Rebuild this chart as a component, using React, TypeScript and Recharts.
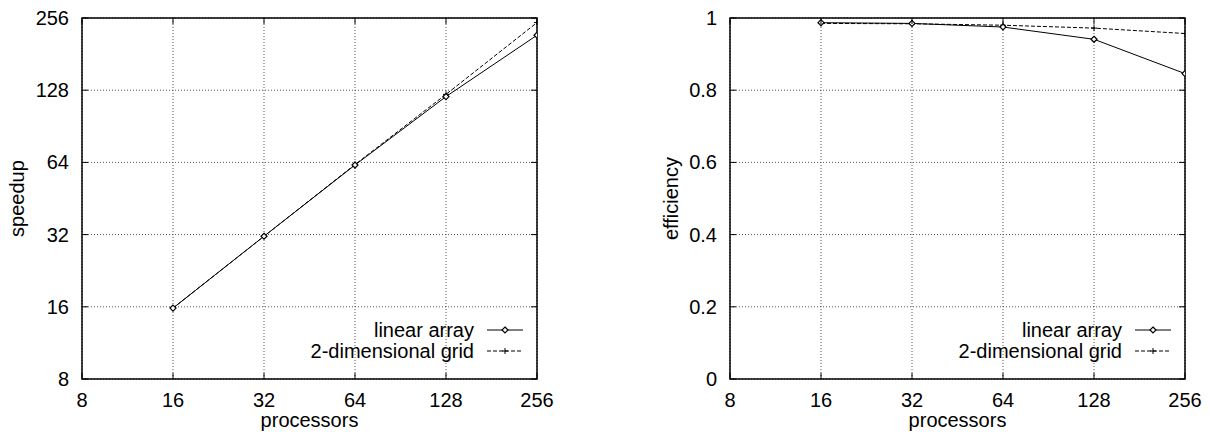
import React from 'react';
import { LineChart, Line, XAxis, YAxis, CartesianGrid, Customized } from 'recharts';

// ---------- data ----------
const processors = [16, 32, 64, 128, 256];
const speedupLinear = [15.8, 31.5, 62.4, 120.4, 217];
const speedupGrid = [15.8, 31.5, 62.7, 123, 245];
const efficiencyLinear = [0.987, 0.985, 0.975, 0.941, 0.846];
const efficiencyGrid = [0.985, 0.984, 0.98, 0.972, 0.957];

const processorTicks = [8, 16, 32, 64, 128, 256];
const speedupTicks = [8, 16, 32, 64, 128, 256];
const efficiencyTicks = [0, 0.2, 0.4, 0.6, 0.8, 1];

const seriesNames = ['linear array', '2-dimensional grid'];
const xTitle = 'processors';
const speedupTitle = 'speedup';
const efficiencyTitle = 'efficiency';

const speedupData = processors.map((p, i) => ({ p, linear: speedupLinear[i], grid: speedupGrid[i] }));
const efficiencyData = processors.map((p, i) => ({ p, linear: efficiencyLinear[i], grid: efficiencyGrid[i] }));

// ---------- style / layout ----------
const FONT = '"Liberation Sans", Arial, Helvetica, sans-serif';
const FS = 20;
const W = 605;
const H = 432;
const TOP = 18;
const BOTTOM = 379;
const TICK = 6;

const Diamond = (props: any) => {
  const { cx, cy } = props;
  if (cx == null || cy == null) return <g />;
  const r = 3;
  return (
    <polygon
      points={`${cx},${cy - r} ${cx + r},${cy} ${cx},${cy + r} ${cx - r},${cy}`}
      fill="#fff"
      stroke="#000"
      strokeWidth={1.2}
    />
  );
};

const Plus = (props: any) => {
  const { cx, cy } = props;
  if (cx == null || cy == null) return <g />;
  const r = 3;
  return (
    <g stroke="#000" strokeWidth={1}>
      <line x1={cx - r} y1={cy} x2={cx + r} y2={cy} />
      <line x1={cx} y1={cy - r} x2={cx} y2={cy + r} />
    </g>
  );
};

const makeXTick = () => (props: any) => {
  const { x, y, payload } = props;
  return (
    <g>
      <line x1={x} y1={y} x2={x} y2={y - TICK} stroke="#000" />
      <line x1={x} y1={TOP} x2={x} y2={TOP + TICK} stroke="#000" />
      <text x={x} y={y + 28} textAnchor="middle" fontFamily={FONT} fontSize={FS} fill="#000">
        {String(payload.value)}
      </text>
    </g>
  );
};

const makeYTick = (right: number) => (props: any) => {
  const { x, y, payload } = props;
  return (
    <g>
      <line x1={x} y1={y} x2={x + TICK} y2={y} stroke="#000" />
      <line x1={right} y1={y} x2={right - TICK} y2={y} stroke="#000" />
      <text x={x - 13} y={y + 7} textAnchor="end" fontFamily={FONT} fontSize={FS} fill="#000">
        {String(payload.value)}
      </text>
    </g>
  );
};

const Extras = ({ left, right, ytitle, ytitleX }: { left: number; right: number; ytitle: string; ytitleX: number }) => {
  const cx = (left + right) / 2;
  const cy = (TOP + BOTTOM) / 2;
  const textEnd = right - 63;
  const s1 = right - 50;
  const s2 = right - 14;
  const sm = (s1 + s2) / 2;
  const r1 = 330;
  const r2 = 351;
  return (
    <g>
      <rect x={left} y={TOP} width={right - left} height={BOTTOM - TOP} fill="none" stroke="#000" strokeWidth={1.5} />
      <text x={cx} y={427} textAnchor="middle" fontFamily={FONT} fontSize={FS} fill="#000">
        {xTitle}
      </text>
      <text
        x={ytitleX}
        y={cy}
        transform={`rotate(-90, ${ytitleX}, ${cy})`}
        textAnchor="middle"
        fontFamily={FONT}
        fontSize={FS}
        fill="#000"
      >
        {ytitle}
      </text>
      <text x={textEnd} y={r1 + 7} textAnchor="end" fontFamily={FONT} fontSize={FS} fill="#000">
        {seriesNames[0]}
      </text>
      <line x1={s1} y1={r1} x2={s2} y2={r1} stroke="#000" strokeWidth={1} />
      <Diamond cx={sm} cy={r1} />
      <text x={textEnd} y={r2 + 7} textAnchor="end" fontFamily={FONT} fontSize={FS} fill="#000">
        {seriesNames[1]}
      </text>
      <line x1={s1} y1={r2} x2={s2} y2={r2} stroke="#000" strokeWidth={1} strokeDasharray="4 2" />
      <Plus cx={sm} cy={r2} />
    </g>
  );
};

export default function App() {
  const leftRight = 537;
  const rightLeft = 125;
  const rightRight = 580;
  return (
    <div style={{ position: 'absolute', left: 0, top: 0, width: 1210, height: 432, background: '#fff' }}>
      <div style={{ position: 'absolute', left: 0, top: 0 }}>
        <LineChart width={W} height={H} data={speedupData} margin={{ top: TOP, right: W - leftRight, bottom: 0, left: 0 }}>
          <CartesianGrid stroke="#555" strokeDasharray="1 2" />
          <XAxis
            dataKey="p"
            type="number"
            scale="log"
            domain={[8, 256]}
            ticks={processorTicks}
            allowDataOverflow
            interval={0}
            height={H - BOTTOM}
            tickSize={0}
            tickMargin={0}
            tickLine={false}
            axisLine={false}
            tick={makeXTick()}
          />
          <YAxis
            type="number"
            scale="log"
            domain={[8, 256]}
            ticks={speedupTicks}
            allowDataOverflow
            interval={0}
            width={82}
            tickSize={0}
            tickMargin={0}
            tickLine={false}
            axisLine={false}
            tick={makeYTick(leftRight)}
          />
          <Line dataKey="grid" stroke="#000" strokeWidth={1} strokeDasharray="4 2" dot={<Plus />} isAnimationActive={false} />
          <Line dataKey="linear" stroke="#000" strokeWidth={1} dot={<Diamond />} isAnimationActive={false} />
          <Customized component={() => <Extras left={82} right={leftRight} ytitle={speedupTitle} ytitleX={24} />} />
        </LineChart>
      </div>
      <div style={{ position: 'absolute', left: W, top: 0 }}>
        <LineChart width={W} height={H} data={efficiencyData} margin={{ top: TOP, right: W - rightRight, bottom: 0, left: 0 }}>
          <CartesianGrid stroke="#555" strokeDasharray="1 2" />
          <XAxis
            dataKey="p"
            type="number"
            scale="log"
            domain={[8, 256]}
            ticks={processorTicks}
            allowDataOverflow
            interval={0}
            height={H - BOTTOM}
            tickSize={0}
            tickMargin={0}
            tickLine={false}
            axisLine={false}
            tick={makeXTick()}
          />
          <YAxis
            type="number"
            domain={[0, 1]}
            ticks={efficiencyTicks}
            allowDataOverflow
            interval={0}
            width={rightLeft}
            tickSize={0}
            tickMargin={0}
            tickLine={false}
            axisLine={false}
            tick={makeYTick(rightRight)}
          />
          <Line dataKey="grid" stroke="#000" strokeWidth={1} strokeDasharray="4 2" dot={<Plus />} isAnimationActive={false} />
          <Line dataKey="linear" stroke="#000" strokeWidth={1} dot={<Diamond />} isAnimationActive={false} />
          <Customized component={() => <Extras left={rightLeft} right={rightRight} ytitle={efficiencyTitle} ytitleX={73} />} />
        </LineChart>
      </div>
    </div>
  );
}
